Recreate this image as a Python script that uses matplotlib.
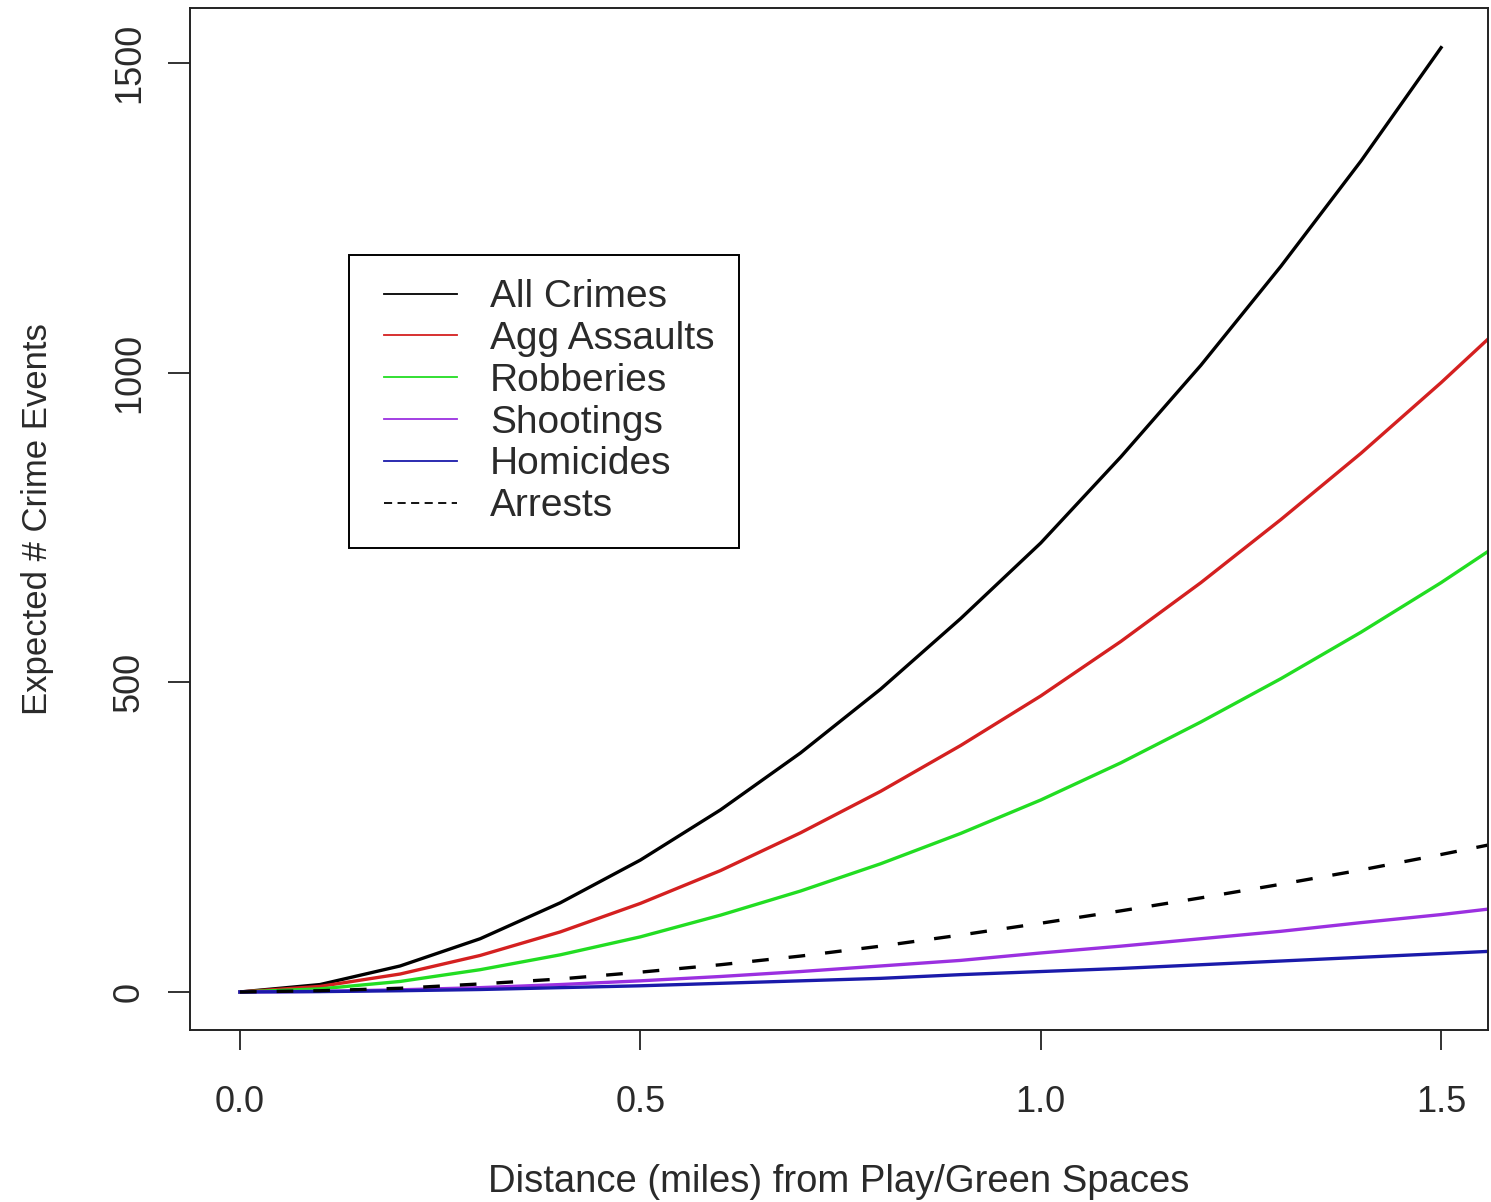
import matplotlib
matplotlib.use("Agg")
import matplotlib.pyplot as plt
from matplotlib.lines import Line2D
from matplotlib.legend_handler import HandlerLine2D

# distance (miles) from play/green spaces
dist = [0.0, 0.1, 0.2, 0.3, 0.4, 0.5, 0.6, 0.7, 0.8, 0.9, 1.0,
        1.1, 1.2, 1.3, 1.4, 1.5, 1.6]

# expected number of crime events
all_crimes = [0, 12, 42, 86, 144, 213, 294, 386, 489, 603, 725,
              864, 1012, 1172, 1342, 1525]
agg_assaults = [0, 9, 29, 59, 97, 143, 196, 257, 324, 398, 478,
                566, 661, 763, 870, 984, 1104]
robberies = [0, 5, 17, 36, 60, 89, 124, 163, 207, 256, 310,
             370, 436, 506, 581, 661, 747]
shootings = [0, 1, 3.5, 7, 12, 18, 25, 33, 42, 51, 63,
             74, 86, 98, 112, 125, 140]
homicides = [0, 0.6, 2, 4, 7, 10, 14, 18, 22, 28, 33,
             38, 44, 50, 56, 62, 68]
arrests = [0, 2, 6, 13, 21, 32, 44, 58, 74, 92, 111,
           131, 152, 174, 197, 222, 248]

labels = ["All Crimes", "Agg Assaults", "Robberies", "Shootings",
          "Homicides", "Arrests"]
colors = ["black", "#d42020", "#22dd22", "#9b30e0", "#1a1aaa", "black"]

xticks = [0.0, 0.5, 1.0, 1.5]
xticklabels = ["0.0", "0.5", "1.0", "1.5"]
yticks = [0, 500, 1000, 1500]
yticklabels = ["0", "500", "1000", "1500"]

txt = "#2a2a2a"
plt.rcParams["font.family"] = ["Liberation Sans", "DejaVu Sans"]

fig = plt.figure(figsize=(14.91, 12.02), dpi=100)
ax = fig.add_axes([190 / 1491, 1 - 1030 / 1202, 1298 / 1491, 1022 / 1202])

lw = 2.4
ax.plot(dist[:len(all_crimes)], all_crimes, color=colors[0], lw=lw)
ax.plot(dist, agg_assaults, color=colors[1], lw=lw)
ax.plot(dist, robberies, color=colors[2], lw=lw)
ax.plot(dist, shootings, color=colors[3], lw=lw)
ax.plot(dist, homicides, color=colors[4], lw=lw)
ax.plot(dist, arrests, color=colors[5], lw=lw, linestyle=(0, (5, 6)))

ax.set_xlim(-0.0624, 1.5586)
ax.set_ylim(-61.4, 1589)

ax.set_xticks(xticks)
ax.set_xticklabels(xticklabels, fontsize=26, color=txt)
ax.set_yticks(yticks)
ax.set_yticklabels(yticklabels, fontsize=26, color=txt, rotation=90, va="center")
ax.tick_params(axis="x", length=14.5, width=1.3, pad=25, color="#222")
ax.tick_params(axis="y", length=16, width=1.3, pad=15, color="#222")
for s in ax.spines.values():
    s.set_linewidth(1.4)
    s.set_color("#222")

ax.set_xlabel("Distance (miles) from Play/Green Spaces", fontsize=27.5,
              color=txt, labelpad=32)
ax.set_ylabel("Expected # Crime Events", fontsize=25, color=txt, labelpad=42)

handles = [Line2D([], [], color=c, lw=1.3) for c in colors]
handles[-1].set_linestyle((0, (4.5, 3)))
leg = ax.legend(handles, labels, loc="upper left",
                bbox_to_anchor=(0.1225, 0.7583), borderaxespad=0,
                fontsize=28, frameon=True, fancybox=False, framealpha=1,
                edgecolor="black", borderpad=0.62, labelspacing=0.15,
                handlelength=2.16, handletextpad=0.85,
                handler_map={Line2D: HandlerLine2D(xpad=0.28)})
leg.get_frame().set_linewidth(1.4)
for t in leg.get_texts():
    t.set_color(txt)

fig.savefig("out.png", dpi=100)
